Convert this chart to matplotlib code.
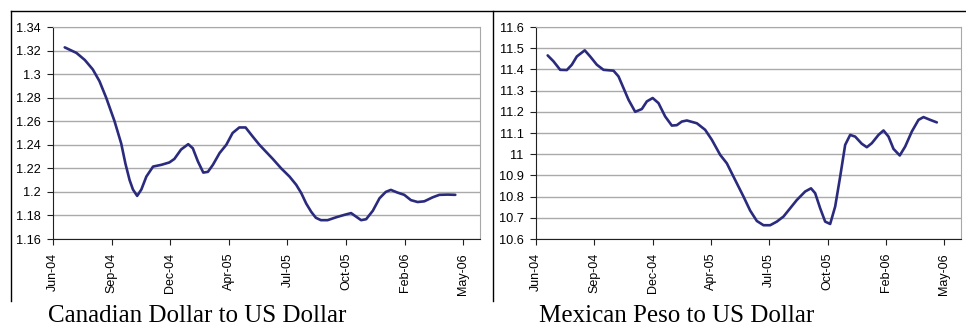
import matplotlib
matplotlib.use("Agg")
import matplotlib.pyplot as plt
from matplotlib.lines import Line2D

# weekly observations, x = week number since start of Jun-04
tick_weeks = [0, 14, 28, 42, 56, 70, 84, 98]
tick_labels = ['Jun-04', 'Sep-04', 'Dec-04', 'Apr-05', 'Jul-05', 'Oct-05', 'Feb-06', 'May-06']

cad_weeks = [2.8, 5.6, 7.6, 9.5, 11.1, 12.7, 14.7, 16.3, 17.3, 18.3, 19.1, 20.1, 21.1, 22.3,
             23.9, 25.9, 27.8, 29.0, 30.6, 32.3, 33.4, 34.6, 35.9, 37.0, 38.2, 39.8, 41.4,
             42.9, 44.5, 46.0, 47.7, 49.3, 50.9, 52.5, 54.5, 56.5, 58.1, 59.3, 60.5, 61.7,
             62.8, 64.0, 65.6, 67.6, 69.6, 71.2, 72.4, 73.6, 74.8, 76.4, 78.0, 79.5, 80.7,
             82.3, 83.9, 85.5, 87.1, 88.7, 90.7, 92.3, 94.3, 96.1]
cad_rate = [1.3227, 1.318, 1.312, 1.304, 1.294, 1.280, 1.260, 1.241, 1.224, 1.210, 1.202,
            1.1966, 1.202, 1.213, 1.2215, 1.223, 1.225, 1.228, 1.236, 1.2405, 1.237, 1.226,
            1.2164, 1.217, 1.223, 1.233, 1.240, 1.250, 1.2547, 1.2547, 1.247, 1.240, 1.234,
            1.228, 1.220, 1.213, 1.206, 1.199, 1.190, 1.183, 1.178, 1.176, 1.176, 1.1784,
            1.1805, 1.182, 1.179, 1.176, 1.1768, 1.184, 1.1946, 1.200, 1.2017, 1.1994,
            1.1975, 1.193, 1.1914, 1.192, 1.1954, 1.1975, 1.1977, 1.1975]

mxn_weeks = [2.8, 4.2, 5.8, 7.4, 8.6, 9.8, 11.7, 13.0, 14.6, 16.2, 18.6, 19.8, 21.0, 22.2,
             23.8, 25.4, 26.6, 28.0, 29.4, 31.0, 32.6, 33.8, 35.0, 36.2, 38.6, 40.6, 42.2,
             44.2, 45.8, 47.4, 49.8, 51.4, 53.0, 54.6, 56.2, 57.8, 59.4, 61.0, 62.6, 64.6,
             66.0, 67.0, 68.2, 69.4, 70.6, 71.8, 73.0, 74.2, 75.4, 76.6, 78.2, 79.4, 80.6,
             82.2, 83.4, 84.6, 85.8, 87.3, 88.6, 90.2, 91.8, 93.0, 94.6, 96.2]
mxn_rate = [11.466, 11.438, 11.398, 11.397, 11.422, 11.461, 11.490, 11.461, 11.422, 11.398,
            11.394, 11.367, 11.312, 11.257, 11.200, 11.213, 11.249, 11.265, 11.241, 11.178,
            11.135, 11.137, 11.154, 11.159, 11.146, 11.115, 11.068, 10.997, 10.957, 10.894,
            10.800, 10.734, 10.685, 10.665, 10.665, 10.682, 10.706, 10.745, 10.784, 10.824,
            10.839, 10.816, 10.745, 10.682, 10.671, 10.753, 10.894, 11.044, 11.091, 11.083,
            11.049, 11.033, 11.052, 11.091, 11.112, 11.083, 11.025, 10.994, 11.036, 11.107,
            11.162, 11.175, 11.162, 11.150]

cad_ticks = [1.16, 1.18, 1.2, 1.22, 1.24, 1.26, 1.28, 1.3, 1.32, 1.34]
cad_ticklabels = ['1.16', '1.18', '1.2', '1.22', '1.24', '1.26', '1.28', '1.3', '1.32', '1.34']
mxn_ticks = [10.6, 10.7, 10.8, 10.9, 11.0, 11.1, 11.2, 11.3, 11.4, 11.5, 11.6]
mxn_ticklabels = ['10.6', '10.7', '10.8', '10.9', '11', '11.1', '11.2', '11.3', '11.4', '11.5', '11.6']

W, H = 966, 328
fig = plt.figure(figsize=(W / 100, H / 100), dpi=100)
fig.patch.set_facecolor('white')

line_color = '#2b2b7e'
tick_font = 'Liberation Sans'


def panel(rect, x, y, yticks, ylabels, title, title_x):
    ax = fig.add_axes(rect)
    ax.plot(x, y, color=line_color, lw=1.9, solid_joinstyle='round', solid_capstyle='round')
    ax.set_xlim(0, 102)
    ax.set_ylim(yticks[0], yticks[-1])
    ax.set_yticks(yticks)
    ax.set_yticklabels(ylabels, fontfamily=tick_font, fontsize=9.2)
    ax.set_xticks(tick_weeks)
    ax.set_xticklabels(tick_labels, rotation=90, fontfamily=tick_font, fontsize=9)
    ax.grid(axis='y', color='#aaaaaa', lw=1)
    ax.set_axisbelow(True)
    for s in ['top', 'right']:
        ax.spines[s].set_color('#a8a8a8')
    for s in ['left', 'bottom']:
        ax.spines[s].set_color('#202020')
    ax.tick_params(direction='out', length=4, width=0.8, color='#202020')
    ax.tick_params(axis='y', pad=5)
    ax.tick_params(axis='x', pad=6)
    fig.text(title_x, 1 - 322 / H, title, fontfamily='Liberation Serif', fontsize=18,
             ha='left', va='baseline')
    return ax


panel([53 / W, 1 - 239 / H, 427 / W, 212 / H], cad_weeks, cad_rate,
      cad_ticks, cad_ticklabels, 'Canadian Dollar to US Dollar', 48 / W)
panel([536 / W, 1 - 239 / H, 425 / W, 212 / H], mxn_weeks, mxn_rate,
      mxn_ticks, mxn_ticklabels, 'Mexican Peso to US Dollar', 539 / W)

# outer frames around the panels
top = 1 - 11 / H
bot = 1 - 301 / H
fig.add_artist(Line2D([11 / W, 11 / W], [bot, top], color='black', lw=1))
fig.add_artist(Line2D([11 / W, 1], [top, top], color='black', lw=1))
fig.add_artist(Line2D([493 / W, 493 / W], [bot, top], color='black', lw=1))

fig.savefig('out.png', dpi=100)
